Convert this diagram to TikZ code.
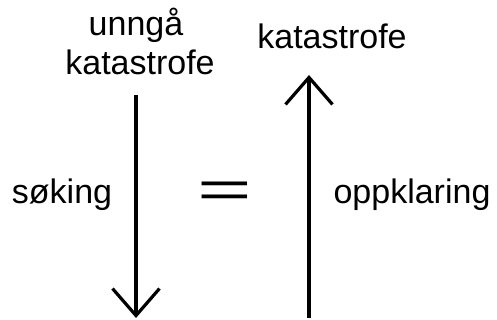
\documentclass[tikz,border=0pt]{standalone}
\usepackage{fontspec}
\setmainfont{Liberation Sans}
\usetikzlibrary{arrows.meta}
\tikzset{every picture/.style={line width=0.75pt}}
\tikzset{
  ord/.style={anchor=base,inner sep=0pt,font=\fontsize{34}{34}\selectfont},
  pil/.style={line width=3.6pt,-{Straight Barb[length=27pt,width=47pt,line width=3.2pt]}}
}

\begin{document}
\begin{tikzpicture}[x=1pt,y=-1pt]
    \useasboundingbox (0,0) rectangle (497,320);
    % venstre side
    \node[ord] (unnga) at (136,36) {unngå};
    \node[ord] (kat1) at (140,75) {katastrofe};
    \node[ord] (soking) at (62,204) {søking};
    \coordinate (ned1) at (136,95);
    \coordinate (ned2) at (136,318);
    \draw[pil] (ned1) -- (ned2);
    % likhetstegn
    \node[anchor=center,inner sep=0pt,font=\fontsize{52}{52}\selectfont] (lik) at (224.5,194.5) {\scalebox{1.8}[1]{=}};
    % høyre side
    \node[ord] (kat2) at (332,49) {katastrofe};
    \node[ord] (oppkl) at (412,204) {oppklaring};
    \coordinate (opp1) at (309,318);
    \coordinate (opp2) at (309,75);
    \draw[pil] (opp1) -- (opp2);
\end{tikzpicture}
\end{document}
